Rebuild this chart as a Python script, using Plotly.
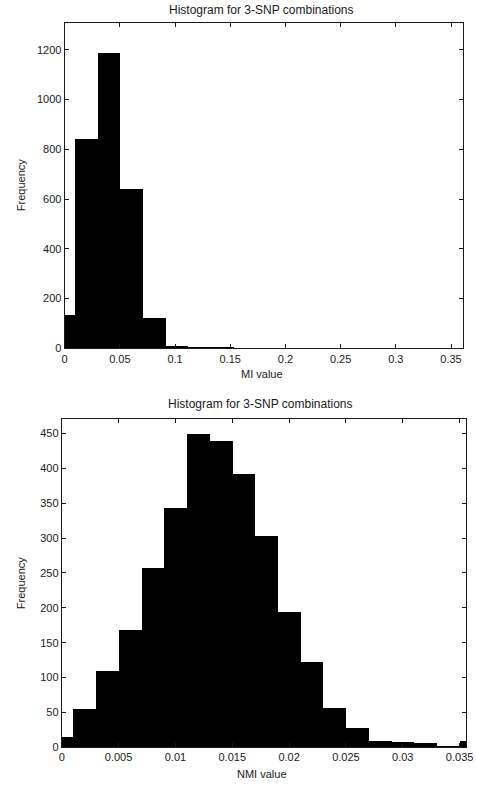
import plotly.graph_objects as go

# ---- data ----
mi_centers = [-0.001, 0.0195, 0.0400, 0.0605, 0.0810, 0.1015, 0.1220, 0.1425, 0.1630,
              0.1835, 0.2040, 0.2245, 0.2450, 0.2655, 0.2860, 0.3065, 0.3270, 0.3475]
mi_counts = [136, 840, 1187, 640, 123, 12, 5, 3, 2, 2, 1, 1, 1, 2, 1, 1, 1, 2]
mi_bin_width = 0.0205
mi_xticks = [0, 0.05, 0.1, 0.15, 0.2, 0.25, 0.3, 0.35]
mi_xticklabels = ["0", "0.05", "0.1", "0.15", "0.2", "0.25", "0.3", "0.35"]
mi_yticks = [0, 200, 400, 600, 800, 1000, 1200]

nmi_centers = [0.000, 0.002, 0.004, 0.006, 0.008, 0.010, 0.012, 0.014, 0.016, 0.018,
               0.020, 0.022, 0.024, 0.026, 0.028, 0.030, 0.032, 0.034, 0.036]
nmi_counts = [15, 55, 109, 168, 258, 344, 449, 440, 392, 303,
              194, 122, 56, 28, 10, 8, 6, 2, 10]
nmi_bin_width = 0.002
nmi_xticks = [0, 0.005, 0.01, 0.015, 0.02, 0.025, 0.03, 0.035]
nmi_xticklabels = ["0", "0.005", "0.01", "0.015", "0.02", "0.025", "0.03", "0.035"]
nmi_yticks = [0, 50, 100, 150, 200, 250, 300, 350, 400, 450]

title_text = "Histogram for 3-SNP combinations"

W, H = 477, 788
FONT = "Liberation Sans, Arial, sans-serif"
INK = "#1a1a1a"

fig = go.Figure()
fig.add_trace(go.Bar(x=mi_centers, y=mi_counts, width=[mi_bin_width] * len(mi_centers),
                     marker=dict(color="black", line=dict(width=0)),
                     xaxis="x", yaxis="y", showlegend=False))
fig.add_trace(go.Bar(x=nmi_centers, y=nmi_counts, width=[nmi_bin_width] * len(nmi_centers),
                     marker=dict(color="black", line=dict(width=0)),
                     xaxis="x2", yaxis="y2", showlegend=False))

def px_x(p):
    return p / W

def px_y(p):
    return 1 - p / H

axis_common = dict(showline=True, linecolor=INK, linewidth=1, mirror="ticks",
                   ticks="inside", ticklen=4, tickcolor=INK, showgrid=False,
                   zeroline=False, ticklabeloverflow="allow",
                   tickfont=dict(family=FONT, size=11, color=INK))

fig.update_layout(
    width=W, height=H,
    margin=dict(l=0, r=0, t=0, b=0),
    paper_bgcolor="white", plot_bgcolor="white",
    bargap=0,
    xaxis=dict(domain=[px_x(63), px_x(470)], anchor="y", range=[0, 0.361],
               tickvals=mi_xticks, ticktext=mi_xticklabels, **axis_common),
    yaxis=dict(domain=[px_y(351), px_y(23)], anchor="x", range=[0, 1308],
               tickvals=mi_yticks, **axis_common),
    xaxis2=dict(domain=[px_x(60), px_x(473)], anchor="y2", range=[0, 0.03557],
                tickvals=nmi_xticks, ticktext=nmi_xticklabels, **axis_common),
    yaxis2=dict(domain=[px_y(753), px_y(422)], anchor="x2", range=[0, 471],
                tickvals=nmi_yticks, **axis_common),
)

ann_font = dict(family=FONT, size=11, color=INK)
title_font = dict(family=FONT, size=12, color=INK)
annotations = [
    dict(text=title_text, x=px_x(264), y=px_y(10), xref="paper", yref="paper",
         showarrow=False, font=title_font, xanchor="center", yanchor="middle"),
    dict(text="MI value", x=px_x(265), y=px_y(377), xref="paper", yref="paper",
         showarrow=False, font=ann_font, xanchor="center", yanchor="middle"),
    dict(text="Frequency", x=px_x(18), y=px_y(187), xref="paper", yref="paper",
         showarrow=False, font=ann_font, textangle=-90, xanchor="center", yanchor="middle"),
    dict(text=title_text, x=px_x(263), y=px_y(407), xref="paper", yref="paper",
         showarrow=False, font=title_font, xanchor="center", yanchor="middle"),
    dict(text="NMI value", x=px_x(265), y=px_y(780), xref="paper", yref="paper",
         showarrow=False, font=ann_font, xanchor="center", yanchor="middle"),
    dict(text="Frequency", x=px_x(18), y=px_y(588), xref="paper", yref="paper",
         showarrow=False, font=ann_font, textangle=-90, xanchor="center", yanchor="middle"),
]
fig.update_layout(annotations=annotations)

fig.write_html("out.html", config={"displayModeBar": False},
               post_script="document.body.style.margin='0';document.body.style.overflow='hidden';")
